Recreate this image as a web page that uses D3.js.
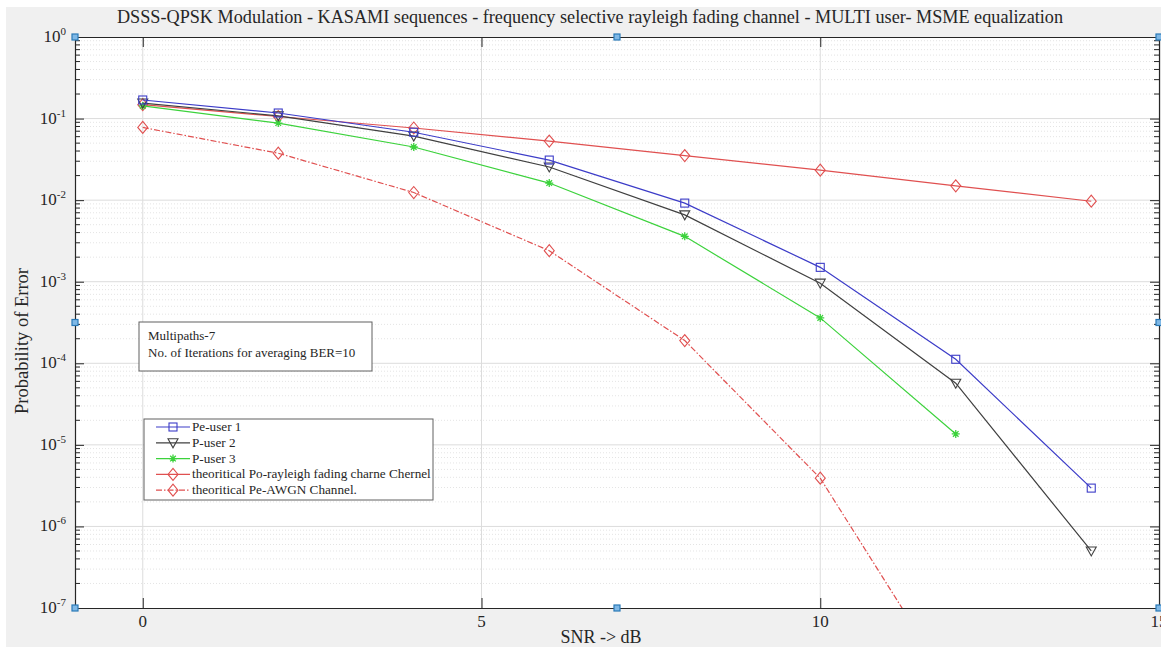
<!DOCTYPE html>
<html>
<head>
<meta charset="utf-8">
<script src="https://cdn.jsdelivr.net/npm/d3@7"></script>
<style>
  body { margin: 0; background: #fff; }
  svg text { font-family: "Liberation Serif", "DejaVu Serif", serif; fill: #262626; }
</style>
</head>
<body>
<svg width="1161" height="647"></svg>
<script>
// SNR points (dB)
let snr = [0, 2, 4, 6, 8, 10, 12, 14];

// simulated BER per user
let peUser1 = [0.169, 0.117, 0.068, 0.031, 0.0092, 0.0015, 1.12e-4, 2.95e-6];
let peUser2 = [0.155, 0.108, 0.061, 0.0255, 0.0066, 9.6e-4, 5.7e-5, 5.0e-7];
let peUser3 = [0.143, 0.088, 0.0448, 0.0162, 0.0036, 3.6e-4, 1.36e-5];

// theoretical curves
let peRayleigh = [0.148, 0.106, 0.0766, 0.053, 0.0352, 0.0233, 0.0150, 0.0097];
let peAwgn = [0.0778, 0.0376, 0.0124, 0.0024, 1.9e-4, 3.9e-6, 9e-9, 7e-13];

let legendLabels = ["Pe-user 1", "P-user 2", "P-user 3",
    "theoritical Po-rayleigh fading charne Chernel", "theoritical Pe-AWGN Channel."];
let xTicks = [0, 5, 10, 15];
let yTicks = [1, 1e-1, 1e-2, 1e-3, 1e-4, 1e-5, 1e-6, 1e-7];
let noteLines = ["Multipaths-7", "No. of Iterations for averaging BER=10"];

let svg = d3.select("svg"),
    width = +svg.attr("width"),
    height = +svg.attr("height");

let plot = {left: 75, right: 1159, top: 37, bottom: 608};

// figure background
svg.append("rect").attr("width", width).attr("height", height).attr("fill", "#fff");
svg.append("rect").attr("x", 6).attr("y", 7).attr("width", width - 6).attr("height", height - 7)
    .attr("fill", "#f0f0f0");
svg.append("rect")
    .attr("x", plot.left).attr("y", plot.top)
    .attr("width", plot.right - plot.left).attr("height", plot.bottom - plot.top)
    .attr("fill", "#fff");

let x = d3.scaleLinear().domain([-1, 15]).range([plot.left, plot.right]);
let y = d3.scaleLog().domain([1e-7, 1]).range([plot.bottom, plot.top]);

let defs = svg.append("defs");
defs.append("clipPath").attr("id", "clip")
    .append("rect")
    .attr("x", plot.left).attr("y", plot.top)
    .attr("width", plot.right - plot.left).attr("height", plot.bottom - plot.top);

// grid
let minorVals = [];
for (let e = -7; e < 0; e++) {
    for (let m = 2; m <= 9; m++) minorVals.push(m * Math.pow(10, e));
}
let grid = svg.append("g").attr("class", "grid");
grid.selectAll("line.minor").data(minorVals).enter().append("line")
    .attr("x1", plot.left).attr("x2", plot.right)
    .attr("y1", d => y(d)).attr("y2", d => y(d))
    .attr("stroke", "#e4e4e4").attr("stroke-width", 1)
    .attr("stroke-dasharray", "1,2");
grid.selectAll("line.majorY").data(yTicks.slice(1, -1)).enter().append("line")
    .attr("x1", plot.left).attr("x2", plot.right)
    .attr("y1", d => y(d)).attr("y2", d => y(d))
    .attr("stroke", "#dcdcdc").attr("stroke-width", 1);
grid.selectAll("line.majorX").data(xTicks.slice(0, -1)).enter().append("line")
    .attr("x1", d => x(d)).attr("x2", d => x(d))
    .attr("y1", plot.top).attr("y2", plot.bottom)
    .attr("stroke", "#dcdcdc").attr("stroke-width", 1);

// axes (box with inward ticks)
let axisColor = "#262626";
let leftAxis = d3.axisLeft(y).tickValues(yTicks).tickSizeInner(-9).tickSizeOuter(0).tickFormat("");
let rightAxis = d3.axisRight(y).tickValues(yTicks).tickSizeInner(-9).tickSizeOuter(0).tickFormat("");
let bottomAxis = d3.axisBottom(x).tickValues(xTicks).tickSizeInner(-10).tickSizeOuter(0).tickFormat("");
let topAxis = d3.axisTop(x).tickValues(xTicks).tickSizeInner(-10).tickSizeOuter(0).tickFormat("");

function styleAxis(g) {
    g.selectAll("path, line").attr("stroke", axisColor);
    g.select(".domain").attr("stroke-width", 1.2);
}
svg.append("g").attr("transform", `translate(${plot.left},0)`).call(leftAxis).call(styleAxis);
svg.append("g").attr("transform", `translate(${plot.right},0)`).call(rightAxis).call(styleAxis);
svg.append("g").attr("transform", `translate(0,${plot.bottom})`).call(bottomAxis).call(styleAxis);
svg.append("g").attr("transform", `translate(0,${plot.top})`).call(topAxis).call(styleAxis);

// minor y ticks on both sides
let minorTicks = svg.append("g");
[plot.left, plot.right].forEach((px, i) => {
    let dir = i === 0 ? 1 : -1;
    minorTicks.selectAll(null).data(minorVals).enter().append("line")
        .attr("x1", px).attr("x2", px + dir * 5)
        .attr("y1", d => y(d)).attr("y2", d => y(d))
        .attr("stroke", axisColor);
});

// tick labels
let yLabels = svg.append("g");
yTicks.forEach(v => {
    let t = yLabels.append("text")
        .attr("x", plot.left - 9)
        .attr("y", y(v) + 5)
        .attr("text-anchor", "end")
        .style("font-size", "17px");
    t.append("tspan").text("10");
    t.append("tspan").attr("dy", -7).style("font-size", "11px")
        .text(Math.round(Math.log10(v)) === 0 ? "0" : "-" + (-Math.round(Math.log10(v))));
});
svg.append("g").selectAll("text").data(xTicks).enter().append("text")
    .attr("x", d => x(d)).attr("y", plot.bottom + 19)
    .attr("text-anchor", "middle")
    .style("font-size", "17px")
    .text(d => d);

// titles
svg.append("text")
    .attr("x", 590).attr("y", 23)
    .attr("text-anchor", "middle")
    .style("font-size", "18.2px")
    .text("DSSS-QPSK Modulation - KASAMI sequences - frequency selective rayleigh fading channel - MULTI user- MSME equalization");
svg.append("text")
    .attr("x", 601).attr("y", 643)
    .attr("text-anchor", "middle")
    .style("font-size", "18px")
    .text("SNR -> dB");
svg.append("text")
    .attr("transform", "translate(28,341) rotate(-90)")
    .attr("text-anchor", "middle")
    .style("font-size", "18.5px")
    .text("Probability of Error");

// series
let series = [
    {vals: peUser1, color: "#3c3cc8", marker: "square", dash: null},
    {vals: peUser2, color: "#404040", marker: "triangle", dash: null},
    {vals: peUser3, color: "#3cd23c", marker: "star", dash: null},
    {vals: peRayleigh, color: "#e05050", marker: "diamond", dash: null},
    {vals: peAwgn, color: "#e05050", marker: "diamond", dash: "6,2,1.5,2"}
];

let line = d3.line().x(d => x(d[0])).y(d => y(d[1]));

function drawMarker(g, type, color, cx, cy) {
    if (type === "square") {
        g.append("rect").attr("x", cx - 4).attr("y", cy - 4).attr("width", 8).attr("height", 8)
            .attr("fill", "none").attr("stroke", color).attr("stroke-width", 1.1);
    } else if (type === "triangle") {
        g.append("path").attr("d", `M${cx - 5},${cy - 4}L${cx + 5},${cy - 4}L${cx},${cy + 5}Z`)
            .attr("fill", "none").attr("stroke", color).attr("stroke-width", 1.1);
    } else if (type === "diamond") {
        g.append("path").attr("d", `M${cx},${cy - 6}L${cx + 5},${cy}L${cx},${cy + 6}L${cx - 5},${cy}Z`)
            .attr("fill", "none").attr("stroke", color).attr("stroke-width", 1.1);
    } else if (type === "star") {
        let r = 4;
        g.append("path")
            .attr("d", `M${cx - r},${cy}L${cx + r},${cy}M${cx},${cy - r}L${cx},${cy + r}` +
                `M${cx - r * 0.7},${cy - r * 0.7}L${cx + r * 0.7},${cy + r * 0.7}` +
                `M${cx - r * 0.7},${cy + r * 0.7}L${cx + r * 0.7},${cy - r * 0.7}`)
            .attr("stroke", color).attr("stroke-width", 1.3);
    }
}

let dataG = svg.append("g").attr("clip-path", "url(#clip)");
// draw back to front so blue lies on top like the reference
series.slice().reverse().forEach(s => {
    let pts = s.vals.map((v, i) => [snr[i], v]);
    dataG.append("path")
        .datum(pts)
        .attr("d", line)
        .attr("fill", "none")
        .attr("stroke", s.color)
        .attr("stroke-width", 1.2)
        .attr("stroke-dasharray", s.dash);
    pts.forEach(p => drawMarker(dataG, s.marker, s.color, x(p[0]), y(p[1])));
});

// annotation box
let note = svg.append("g");
note.append("rect").attr("x", 139).attr("y", 322).attr("width", 233).attr("height", 49)
    .attr("fill", "#fff").attr("stroke", "#606060").attr("stroke-width", 1);
note.selectAll("text").data(noteLines).enter().append("text")
    .attr("x", 148).attr("y", (d, i) => 340 + i * 17)
    .style("font-size", "13px")
    .text(d => d);

// legend
let legend = svg.append("g");
legend.append("rect").attr("x", 144).attr("y", 419).attr("width", 289).attr("height", 81)
    .attr("fill", "#fff").attr("stroke", "#606060").attr("stroke-width", 1);
series.forEach((s, i) => {
    let ly = 427 + i * 15.8;
    legend.append("line").attr("x1", 156).attr("x2", 190).attr("y1", ly).attr("y2", ly)
        .attr("stroke", s.color).attr("stroke-width", 1.2).attr("stroke-dasharray", s.dash);
    drawMarker(legend, s.marker, s.color, 173, ly);
    legend.append("text").attr("x", 192).attr("y", ly + 4)
        .style("font-size", "13.2px")
        .text(legendLabels[i]);
});

// selection handles
let handles = [
    [plot.left, plot.top], [(plot.left + plot.right) / 2, plot.top], [plot.right, plot.top],
    [plot.left, (plot.top + plot.bottom) / 2], [plot.right, (plot.top + plot.bottom) / 2],
    [plot.left, plot.bottom], [(plot.left + plot.right) / 2, plot.bottom], [plot.right, plot.bottom]
];
svg.append("g").selectAll("rect").data(handles).enter().append("rect")
    .attr("x", d => d[0] - 3).attr("y", d => d[1] - 3)
    .attr("width", 6).attr("height", 6)
    .attr("fill", "#7fb8e6").attr("stroke", "#2a7ab8").attr("stroke-width", 1.2);
</script>
</body>
</html>
